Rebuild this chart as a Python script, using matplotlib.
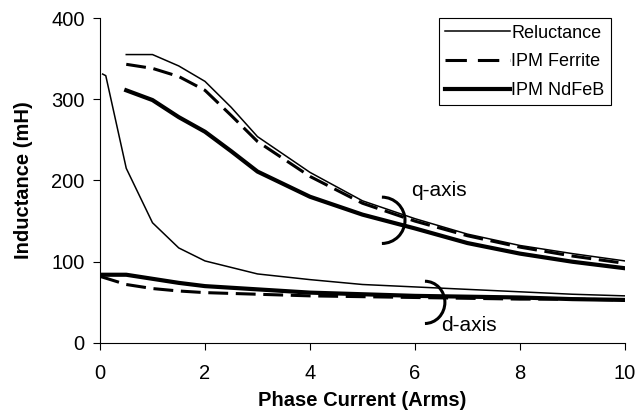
import numpy as np
import matplotlib.pyplot as plt
from matplotlib.patches import Arc
from matplotlib.lines import Line2D

plt.rcParams['font.family'] = ['Liberation Sans', 'DejaVu Sans']

# q-axis curves
xq = [0.5, 1, 1.5, 2, 2.5, 3, 4, 5, 6, 7, 8, 9, 10]
rel_q = [355, 355, 341, 322, 290, 254, 210, 175, 153, 134, 120, 110, 101]
fer_q = [343, 338, 328, 311, 280, 248, 205, 172, 150, 132, 118, 107, 98]
ndf_q = [311, 299, 278, 260, 236, 211, 180, 158, 141, 123, 110, 100, 92]

# d-axis curves
xd_rel = [0.05, 0.11, 0.5, 1, 1.5, 2, 3, 4, 5, 6, 7, 8, 9, 10]
rel_d = [331, 329, 215, 148, 117, 101, 85, 78, 72, 69, 66, 63, 60, 58]
xd = [0, 0.5, 1, 1.5, 2, 3, 4, 5, 6, 7, 8, 9, 10]
fer_d = [82, 72, 67, 64, 62, 60, 58, 57, 56, 55, 54, 54, 53]
ndf_d = [84, 84, 79, 74, 70, 66, 62, 60, 58, 57, 56, 54, 53]

fig = plt.figure(figsize=(6.39, 4.12), dpi=100)
ax = fig.add_axes([0.1565, 0.1675, 0.8215, 0.7888])

ax.plot(xq, rel_q, 'k', lw=1.1)
ax.plot(xq, fer_q, 'k', lw=2.2, dashes=(6.5, 2.5))
ax.plot(xq, ndf_q, 'k', lw=3.0)
ax.plot(xd_rel, rel_d, 'k', lw=1.1)
ax.plot(xd, fer_d, 'k', lw=2.2, dashes=(6.5, 2.5))
ax.plot(xd, ndf_d, 'k', lw=3.0)

# brackets and labels
ax.add_patch(Arc((5.37, 151), 0.88, 57, theta1=-90, theta2=90, color='k', lw=2.2))
ax.add_patch(Arc((6.19, 50), 0.76, 52, theta1=-90, theta2=90, color='k', lw=2.2))
ax.text(5.93, 188, "q-axis", fontsize=15, va='center')
ax.text(6.5, 22, "d-axis", fontsize=15, va='center')

ax.set_xlim(0, 10)
ax.set_ylim(0, 400)
ax.set_xticks(range(0, 11, 2))
ax.set_yticks(range(0, 401, 100))
ax.spines['top'].set_visible(False)
ax.spines['right'].set_visible(False)
ax.tick_params(labelsize=14.5, direction='out', length=5, width=0.8)
ax.tick_params(axis='x', pad=10)
ax.tick_params(axis='y', pad=6)
ax.set_xlabel("Phase Current (Arms)", fontsize=14.5, fontweight='bold', labelpad=6)
ax.set_ylabel("Inductance (mH)", fontsize=14.5, fontweight='bold', labelpad=13)

# legend handles (dash pattern in the key is wider than on the curves)
handles = [Line2D([], [], color='k', lw=1.1),
           Line2D([], [], color='k', lw=2.2, dashes=(7, 3.6)),
           Line2D([], [], color='k', lw=3.0)]
labels = ["Reluctance", "IPM Ferrite", "IPM NdFeB"]
leg = ax.legend(handles, labels, loc='upper right', bbox_to_anchor=(0.98, 1.01),
                fontsize=13, handlelength=3.6, handletextpad=0.05, fancybox=False,
                edgecolor='k', framealpha=1, borderpad=0.35, labelspacing=0.65,
                borderaxespad=0.2)
leg.get_frame().set_linewidth(0.8)

plt.savefig("out.png")
